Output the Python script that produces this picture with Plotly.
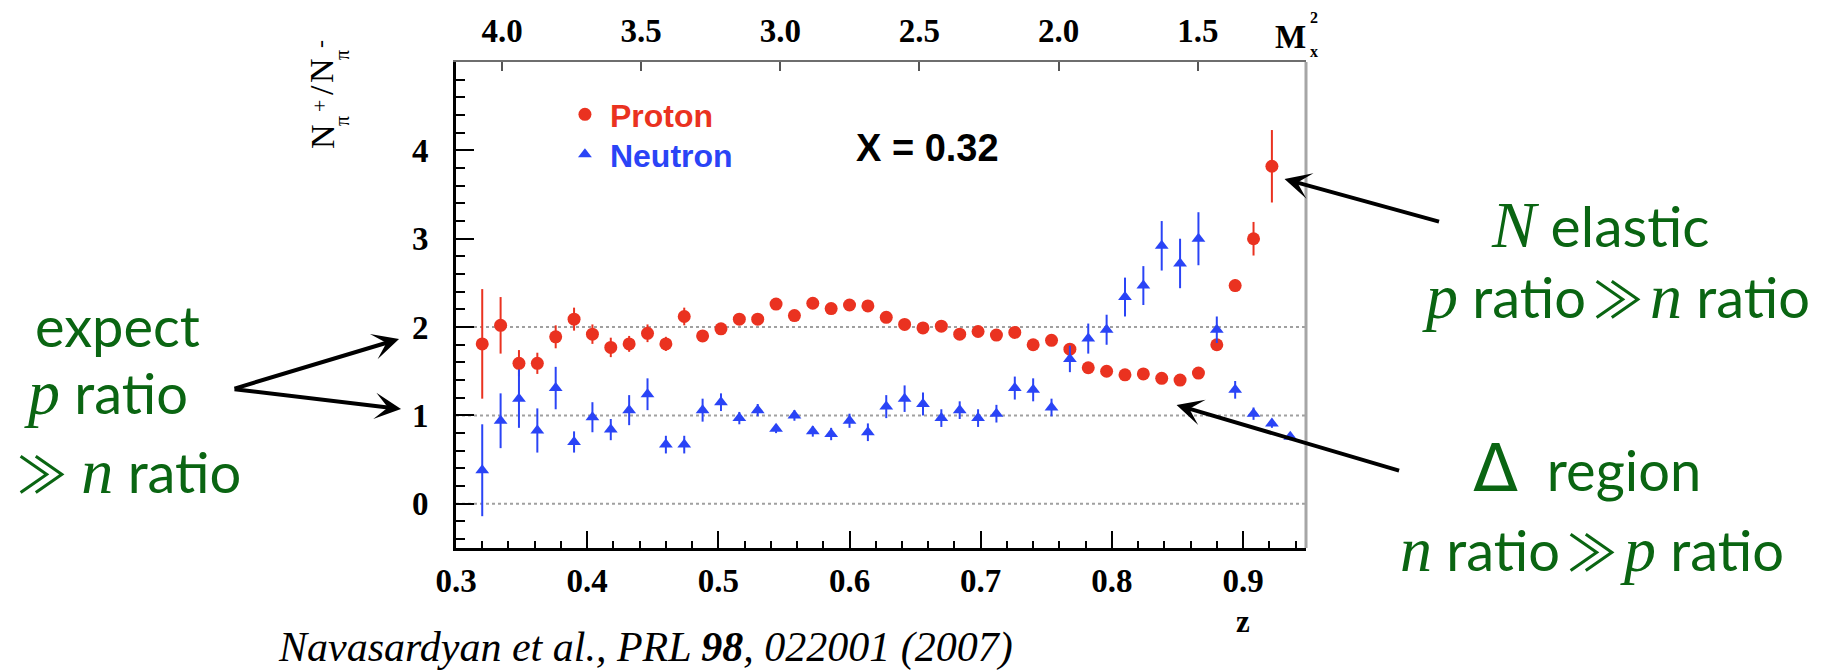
import plotly.graph_objects as go

# ---------------- data ----------------
z_proton = [0.320, 0.334, 0.348, 0.362, 0.376, 0.390, 0.404, 0.418, 0.432, 0.446,
            0.460, 0.474, 0.488, 0.502, 0.516, 0.530, 0.544, 0.558, 0.572, 0.586,
            0.600, 0.614, 0.628, 0.642, 0.656, 0.670, 0.684, 0.698, 0.712, 0.726,
            0.740, 0.754, 0.768, 0.782, 0.796, 0.810, 0.824, 0.838, 0.852, 0.866,
            0.880, 0.894, 0.908, 0.922]
r_proton = [1.81, 2.02, 1.59, 1.59, 1.89, 2.09, 1.92, 1.77, 1.81, 1.93,
            1.81, 2.12, 1.90, 1.98, 2.09, 2.09, 2.26, 2.13, 2.27, 2.21,
            2.25, 2.24, 2.11, 2.03, 1.99, 2.01, 1.92, 1.95, 1.91, 1.94,
            1.80, 1.85, 1.75, 1.54, 1.50, 1.46, 1.47, 1.42, 1.40, 1.48,
            1.80, 2.47, 3.00, 3.82]
e_proton = [0.62, 0.32, 0.15, 0.12, 0.13, 0.13, 0.11, 0.11, 0.09, 0.10,
            0.08, 0.10, 0.06, 0.05, 0.05, 0.05, 0.05, 0.05, 0.04, 0.04,
            0.04, 0.05, 0.05, 0.05, 0.04, 0.04, 0.04, 0.04, 0.04, 0.04,
            0.04, 0.04, 0.04, 0.03, 0.03, 0.03, 0.03, 0.03, 0.03, 0.03,
            0.05, 0.07, 0.19, 0.41]

z_neutron = [0.320, 0.334, 0.348, 0.362, 0.376, 0.390, 0.404, 0.418, 0.432, 0.446,
             0.460, 0.474, 0.488, 0.502, 0.516, 0.530, 0.544, 0.558, 0.572, 0.586,
             0.600, 0.614, 0.628, 0.642, 0.656, 0.670, 0.684, 0.698, 0.712, 0.726,
             0.740, 0.754, 0.768, 0.782, 0.796, 0.810, 0.824, 0.838, 0.852, 0.866,
             0.880, 0.894, 0.908, 0.922, 0.936]
r_neutron = [0.38, 0.94, 1.19, 0.83, 1.31, 0.70, 0.98, 0.84, 1.06, 1.24,
             0.67, 0.67, 1.06, 1.15, 0.97, 1.06, 0.85, 1.00, 0.82, 0.79,
             0.94, 0.81, 1.10, 1.19, 1.13, 0.97, 1.06, 0.97, 1.02, 1.31,
             1.29, 1.09, 1.64, 1.87, 1.97, 2.34, 2.47, 2.92, 2.72, 3.00,
             1.97, 1.29, 1.02, 0.91, 0.76]
e_neutron = [0.52, 0.31, 0.33, 0.25, 0.24, 0.12, 0.17, 0.12, 0.17, 0.18,
             0.10, 0.10, 0.13, 0.10, 0.07, 0.07, 0.05, 0.06, 0.06, 0.07,
             0.08, 0.10, 0.13, 0.15, 0.13, 0.10, 0.10, 0.10, 0.10, 0.13,
             0.13, 0.10, 0.15, 0.17, 0.17, 0.22, 0.22, 0.28, 0.28, 0.30,
             0.15, 0.10, 0.07, 0.05, 0.04]

z_ticks = [0.3, 0.4, 0.5, 0.6, 0.7, 0.8, 0.9]
y_ticks = [0, 1, 2, 3, 4]
mx2_ticks = [4.0, 3.5, 3.0, 2.5, 2.0, 1.5]
ref_lines = [0, 1, 2]

# ---------------- layout geometry ----------------
W, H = 1840, 671
L, R, T, B = 456, 1306.5, 62, 548
def px(x):
    return (x - L) / (R - L)
def py(y):
    return (B - y) / (B - T)

RED = "#ea3220"
BLUE = "#2a44f6"
GREEN = "#0a6512"
TICKFONT = dict(family="Liberation Serif", size=33, color="black", weight="bold")

fig = go.Figure()

fig.add_trace(go.Scatter(
    x=z_proton, y=r_proton, mode="markers", legend="legend",
    name='<span style="color:%s">Proton</span>' % RED,
    marker=dict(symbol="circle", size=13, color=RED),
    error_y=dict(type="data", array=e_proton, color=RED, thickness=2, width=0),
))
fig.add_trace(go.Scatter(
    x=z_neutron, y=r_neutron, mode="markers", legend="legend2",
    name='<span style="color:%s">Neutron</span>' % BLUE,
    marker=dict(symbol="triangle-up", size=12, color=BLUE),
    error_y=dict(type="data", array=e_neutron, color=BLUE, thickness=2, width=0),
))
# invisible trace so the top (M_x^2) axis is drawn
fig.add_trace(go.Scatter(
    x=mx2_ticks, y=[None] * len(mx2_ticks), xaxis="x2", mode="markers",
    showlegend=False, hoverinfo="skip", marker=dict(opacity=0),
))

shapes = []
for v in ref_lines:
    shapes.append(dict(type="line", xref="paper", x0=0, x1=1, yref="y", y0=v, y1=v,
                       line=dict(color="#a0a0a0", width=2, dash="dot"), layer="below"))
# right frame edge
shapes.append(dict(type="line", xref="paper", x0=1, x1=1, yref="paper", y0=0, y1=1,
                   line=dict(color="#a6a6a6", width=3)))

annotations = []

def label(text, x, y, size=56, color=GREEN, family="Lato, DejaVu Sans", **kw):
    annotations.append(dict(text=text, x=px(x), y=py(y), xref="paper", yref="paper",
                            showarrow=False, xanchor="center", yanchor="middle",
                            font=dict(family=family, size=size, color=color), **kw))

def it(t, size=64):
    return '<span style="font-family:Liberation Serif;font-size:%dpx"><i>%s</i></span>' % (size, t)

GG = '<span style="font-family:Noto Sans CJK JP;font-size:50px">≫</span>'
TS = "\u2009"

def arrow(tail, head):
    annotations.append(dict(text="", x=px(head[0]), y=py(head[1]), xref="paper", yref="paper",
                            ax=tail[0] - head[0], ay=tail[1] - head[1],
                            showarrow=True, arrowhead=3, arrowsize=1.1, arrowwidth=4,
                            arrowcolor="black"))

# left annotation
label("expect", 117, 325)
label(it("p") + " ratio", 106, 392)
label(GG + " " + it("n") + " ratio", 129, 471)
arrow((233, 389), (399, 339))
arrow((233, 389), (401, 409))

# right annotations
label(it("N", 66) + " elastic", 1601, 224, size=57)
label(it("p") + " ratio" + TS + GG + TS + it("n") + " ratio", 1617, 296)
label('<span style="font-family:DejaVu Sans;font-size:66px">Δ</span>\u00a0 region', 1588, 468)
label(it("n") + " ratio" + TS + GG + TS + it("p") + " ratio", 1593, 549)
arrow((1441, 222), (1285, 179))
arrow((1401, 471), (1177, 405))

# X = 0.32
label("<b>X = 0.32</b>", 928, 148, size=38, color="black", family="Liberation Sans")

# top axis title M_x^2
label("<b>M</b>", 1291, 37, size=33, color="black", family="Liberation Serif")
label("<b>2</b>", 1315, 17, size=16, color="black", family="Liberation Serif")
label("<b>x</b>", 1315, 52, size=16, color="black", family="Liberation Serif")

# bottom axis title
label("<b>z</b>", 1243, 621, size=31, color="black", family="Liberation Serif")

# y axis title  N_pi^+ / N_pi^-  (rotated, pieces stacked like the original)
YT = dict(color="black", family="Liberation Serif", textangle=-90)
label("N", 322, 137, size=34, **YT)
label("π", 342, 121, size=20, **YT)
label("+", 319, 106, size=22, **YT)
label("/", 322, 90, size=34, **YT)
label("N", 322, 71, size=34, **YT)
label("π", 342, 55, size=20, **YT)
label("-", 320, 44, size=24, **YT)

# citation
label("<i>Navasardyan et al., PRL <b>98</b>, 022001 (2007)</i>", 646, 647, size=42,
      color="black", family="Liberation Serif")

LEGFONT = dict(family="Liberation Sans", size=32, weight="bold")
fig.update_layout(
    width=W, height=H, autosize=False,
    margin=dict(l=L, r=W - R, t=T, b=H - B, pad=0),
    paper_bgcolor="white", plot_bgcolor="white",
    showlegend=True,
    legend=dict(x=px(560), y=py(87), xanchor="left", yanchor="top",
                bgcolor="rgba(0,0,0,0)", itemwidth=40, font=LEGFONT),
    legend2=dict(x=px(560), y=py(127), xanchor="left", yanchor="top",
                 bgcolor="rgba(0,0,0,0)", itemwidth=40, font=LEGFONT),
    xaxis=dict(range=[0.3, 0.948], tickmode="array", tickvals=z_ticks,
               ticktext=["%.1f" % v for v in z_ticks],
               ticks="inside", ticklen=17, tickwidth=2, tickcolor="black",
               minor=dict(dtick=0.02, tick0=0.3, ticks="inside", ticklen=7, tickwidth=2,
                          tickcolor="black", showgrid=False),
               showline=True, linecolor="black", linewidth=3,
               showgrid=False, zeroline=False, tickfont=TICKFONT, ticklabelstandoff=1),
    xaxis2=dict(overlaying="x", side="top", range=[4.1655, 1.111], tickmode="array",
                tickvals=mx2_ticks, ticktext=["%.1f" % v for v in mx2_ticks],
                ticks="inside", ticklen=9, tickwidth=2, tickcolor="#555555",
                showline=True, linecolor="#6e6e6e", linewidth=2,
                showgrid=False, zeroline=False, tickfont=TICKFONT, ticklabelstandoff=5),
    yaxis=dict(range=[-0.5, 5.0], tickmode="array", tickvals=y_ticks,
               ticktext=[str(v) for v in y_ticks],
               ticks="inside", ticklen=18, tickwidth=2, tickcolor="black",
               minor=dict(dtick=0.2, tick0=0, ticks="inside", ticklen=9, tickwidth=2,
                          tickcolor="black", showgrid=False),
               showline=True, linecolor="black", linewidth=3,
               showgrid=False, zeroline=False, tickfont=TICKFONT, ticklabelstandoff=18),
    shapes=shapes,
    annotations=annotations,
)

fig.write_html("out.html")
